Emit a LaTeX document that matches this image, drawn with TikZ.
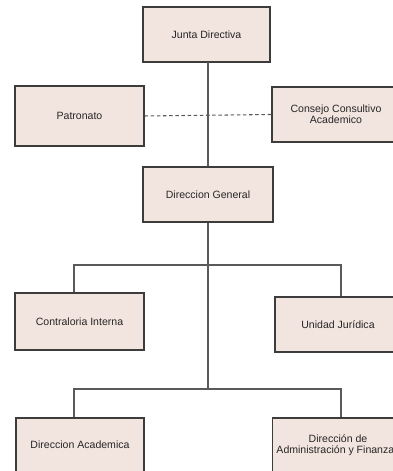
\documentclass[tikz,border=0pt]{standalone}
\usepackage{fontspec}
\setmainfont{Liberation Sans}
\usepackage{xcolor}
\usetikzlibrary{positioning,calc}
\definecolor{boxfill}{RGB}{242,228,222}
\definecolor{boxline}{RGB}{60,60,60}
\definecolor{wire}{RGB}{90,90,90}

\begin{document}
\begin{tikzpicture}[
    unit/.style={draw=boxline, line width=0.6pt, fill=boxfill,
                 minimum width=#1, minimum height=1.1cm,
                 font=\fontsize{6}{7}\selectfont, text=black!85, align=center},
    unit/.default=2.58cm,
    wire/.style={draw=wire, line width=0.6pt},
    link/.style={wire, dashed, dash pattern=on 2pt off 1.5pt},
    every node/.style={inner sep=2pt}]

    \useasboundingbox (0,0) rectangle (7.86,9.42);

    % ── top level ────────────────────────────────────────────
    \node[unit=2.54cm] (jd) at (4.13, 8.73) {Junta Directiva};
    \node[unit, minimum height=1.2cm] (pat) at (1.59, 7.10) {Patronato};
    \node[unit=2.56cm] (cca) at (6.72, 7.13) {Consejo Consultivo\\[-1pt]Academico};
    \draw[link] (pat.east) -- (cca.west);

    % ── direccion general ────────────────────────────────────
    \node[unit=2.6cm] (dg) at (4.16, 5.53) {Direccion General};
    \draw[wire] (jd.south) -- (dg.south |- jd.south) -- (dg.north);

    % ── second level ─────────────────────────────────────────
    \coordinate (b1l) at (1.48, 4.12);
    \coordinate (b1r) at (6.82, 4.12);
    \node[unit, minimum height=1.14cm] (ci) at (1.59, 2.99) {Contraloria Interna};
    \node[unit=2.52cm] (uj) at (6.76, 2.93) {Unidad Jurídica};
    \draw[wire] (b1l |- ci.north) -- (b1l) -- (b1r) -- (b1r |- uj.north);

    % ── third level ──────────────────────────────────────────
    \coordinate (b2l) at (1.48, 1.64);
    \coordinate (b2r) at (6.82, 1.64);
    \coordinate (b2c) at (4.16, 1.64);
    \node[unit=2.56cm, minimum height=1.08cm] (da) at (1.60, 0.52) {Direccion Academica};
    \node[unit=2.52cm, minimum height=1.08cm] (daf) at (6.76, 0.52)
      {Dirección de\\[-1pt]Administración y Finanzas};
    \draw[wire] (b2l |- da.north) -- (b2l) -- (b2r) -- (b2r |- daf.north);
    \draw[wire] (dg.south) -- (b2c);

  \end{tikzpicture}
\end{document}
